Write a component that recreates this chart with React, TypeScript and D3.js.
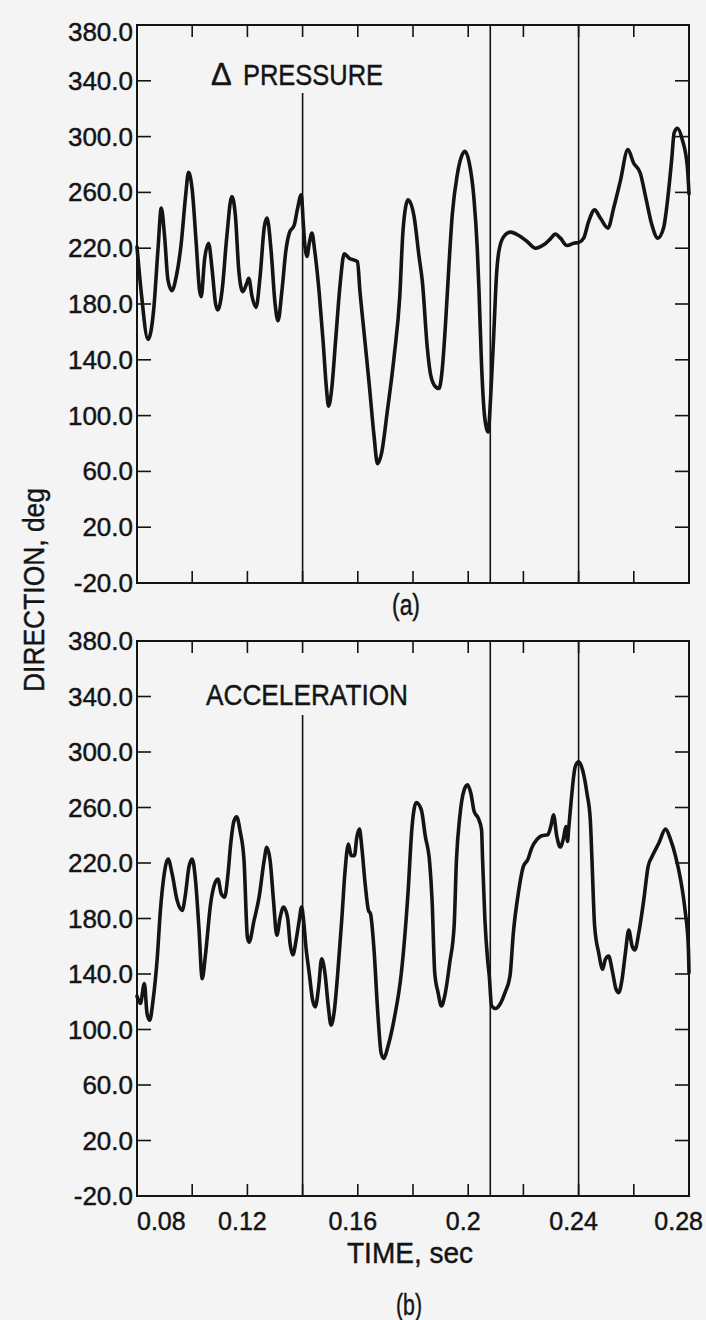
import React from "react";
import * as d3 from "d3";

// ---- data (time in sec, direction in deg) ----
const pressureSeries: [number, number][] = [
  [0.08, 221], [0.08157, 187.7], [0.08398, 154.6], [0.08603, 175.7], [0.08759, 218.8],
  [0.0888, 248.7], [0.09, 228.4], [0.09121, 197.3], [0.09265, 189.6], [0.09422, 199.6],
  [0.09603, 223.6], [0.09759, 257.1], [0.09868, 274.4], [0.1, 261.9], [0.10145, 223.6],
  [0.10265, 190.1], [0.10326, 185.3], [0.10446, 211.6], [0.10591, 223.6], [0.10723, 204.4],
  [0.10844, 180.5], [0.10928, 175.7], [0.11085, 190.1], [0.11254, 228.4], [0.11434, 257.1],
  [0.11567, 242.8], [0.11687, 204.4], [0.11832, 188.9], [0.11977, 194.9], [0.12049, 198.4],
  [0.12169, 185.3], [0.12314, 177.6], [0.12459, 199.6], [0.12615, 235.6], [0.12712, 241.6],
  [0.12856, 218.8], [0.13001, 180.5], [0.13109, 168.0], [0.13254, 190.1], [0.13398, 218.8],
  [0.13519, 230.8], [0.137, 236.8], [0.1382, 248.7], [0.13953, 258.3], [0.14025, 238.0],
  [0.14085, 221.2], [0.14158, 214.0], [0.14242, 223.6], [0.14338, 230.8], [0.14435, 218.8],
  [0.14603, 187.7], [0.14748, 151.7], [0.14869, 118.2], [0.14941, 106.7], [0.15049, 118.2],
  [0.15206, 156.5], [0.15363, 194.9], [0.15507, 215.9], [0.15688, 212.8], [0.1599, 210.4],
  [0.16074, 190.1], [0.1623, 158.9], [0.16411, 123.0], [0.16592, 84.7], [0.16712, 65.5],
  [0.16857, 72.7], [0.17074, 103.8], [0.17315, 142.2], [0.1752, 185.3], [0.1764, 233.2],
  [0.17821, 254.7], [0.18038, 242.8], [0.18219, 214.0], [0.18339, 196.1], [0.1852, 148.2],
  [0.18641, 129.1], [0.18821, 120.6], [0.18942, 119.4], [0.19062, 133.8], [0.19183, 167.3],
  [0.19303, 208.0], [0.19423, 244.0], [0.19604, 272.7], [0.19785, 287.1], [0.19882, 289.5],
  [0.20027, 282.3], [0.20207, 255.9], [0.20328, 220.0], [0.20388, 191.3], [0.20484, 136.2],
  [0.20569, 105.0], [0.20665, 90.7], [0.20725, 88.3], [0.2081, 112.2], [0.2093, 160.1],
  [0.21026, 200.8], [0.2111, 217.6], [0.21291, 228.4], [0.21532, 231.5], [0.21834, 229.1],
  [0.22135, 224.8], [0.22436, 220.0], [0.22737, 222.4], [0.22978, 226.7], [0.23159, 230.1],
  [0.2334, 227.2], [0.23581, 221.9], [0.23822, 223.6], [0.24003, 224.1], [0.24184, 227.2],
  [0.24365, 239.2], [0.24582, 247.5], [0.24787, 241.6], [0.25064, 234.4], [0.25269, 248.7],
  [0.2551, 267.9], [0.25787, 290.7], [0.25992, 281.1], [0.26233, 273.9], [0.26438, 255.9],
  [0.26655, 236.8], [0.26872, 227.2], [0.27077, 234.4], [0.27258, 260.7], [0.27378, 284.7],
  [0.2746, 302.6], [0.2758, 306.0], [0.2776, 297.6], [0.2794, 278.4], [0.28, 259.0],
];

const accelerationSeries: [number, number][] = [
  [0.08, 124], [0.08121, 118.7], [0.08267, 133.1], [0.08364, 111.5], [0.08461, 106.7],
  [0.08582, 121.1], [0.08727, 149.8], [0.08848, 185.8], [0.0897, 209.7], [0.09127, 222.9],
  [0.09273, 212.1], [0.09454, 193.1], [0.09636, 185.8], [0.09757, 197.7], [0.09879, 216.9],
  [0.1, 222.9], [0.10121, 207.3], [0.10242, 173.8], [0.10363, 136.7], [0.10485, 154.6],
  [0.10666, 190.5], [0.10812, 204.9], [0.10933, 208.5], [0.11054, 197.7], [0.11175, 195.4],
  [0.11297, 212.1], [0.11394, 233.7], [0.11515, 250.4], [0.11612, 253.3], [0.11733, 243.2],
  [0.11878, 221.7], [0.12, 166.6], [0.1206, 163.0], [0.12242, 178.6], [0.12424, 195.4],
  [0.12606, 221.7], [0.12703, 231.3], [0.12824, 221.7], [0.12945, 193.1], [0.13066, 167.9],
  [0.13187, 180.9], [0.13309, 188.2], [0.13454, 180.9], [0.13551, 161.3], [0.13648, 153.8],
  [0.13769, 164.9], [0.13878, 178.6], [0.13963, 188.2], [0.14036, 178.6], [0.14121, 159.4],
  [0.14242, 140.3], [0.14363, 121.1], [0.1446, 116.3], [0.14581, 130.7], [0.1469, 151.0],
  [0.14811, 140.3], [0.14933, 116.3], [0.1503, 103.1], [0.15151, 113.9], [0.15272, 140.3],
  [0.15417, 178.6], [0.15539, 214.5], [0.1566, 233.7], [0.15757, 225.3], [0.15878, 225.3],
  [0.15963, 238.4], [0.1606, 244.4], [0.16145, 231.3], [0.16266, 205.0], [0.16387, 185.8],
  [0.1646, 183.4], [0.16581, 159.4], [0.16726, 111.5], [0.16848, 82.8], [0.16945, 79.2],
  [0.1709, 87.6], [0.17332, 109.1], [0.17575, 140.3], [0.17817, 197.7], [0.17963, 245.6],
  [0.1812, 263.6], [0.18302, 258.3], [0.18447, 239.2], [0.18605, 220.0], [0.1869, 193.7],
  [0.18787, 141.0], [0.18908, 126.6], [0.19029, 117.0], [0.1915, 124.2], [0.19332, 148.2],
  [0.1949, 174.5], [0.19575, 222.4], [0.19696, 253.5], [0.19854, 272.7], [0.19975, 276.3],
  [0.20096, 270.3], [0.20217, 257.1], [0.20363, 252.3], [0.20484, 244.0], [0.20521, 222.4],
  [0.20605, 179.3], [0.20702, 150.5], [0.20763, 138.6], [0.20848, 117.0], [0.20993, 115.1],
  [0.21151, 118.2], [0.21333, 126.6], [0.21514, 138.6], [0.21636, 169.7], [0.21817, 198.4],
  [0.21999, 217.6], [0.22157, 222.4], [0.22302, 230.8], [0.22484, 236.8], [0.22666, 239.7],
  [0.22884, 240.4], [0.23006, 247.5], [0.2309, 254.7], [0.23211, 239.2], [0.23333, 231.5],
  [0.23454, 238.0], [0.23539, 246.3], [0.23599, 235.6], [0.23636, 243.6], [0.23733, 265.2],
  [0.23878, 289.5], [0.24, 293.0], [0.24145, 287.1], [0.24303, 270.3], [0.24424, 251.1],
  [0.24484, 222.4], [0.24581, 174.5], [0.24727, 155.3], [0.24872, 143.4], [0.24969, 150.5],
  [0.2509, 152.9], [0.25211, 143.4], [0.25357, 129.0], [0.25454, 126.6], [0.25575, 136.2],
  [0.25696, 155.3], [0.25818, 171.6], [0.25939, 160.1], [0.26036, 157.3], [0.26181, 169.7],
  [0.26363, 193.7], [0.2652, 217.6], [0.26666, 224.8], [0.26908, 234.4], [0.27151, 244.4],
  [0.27333, 236.8], [0.27514, 224.8], [0.27696, 208.0], [0.27854, 186.5], [0.27975, 160.1],
  [0.28, 141.0],
];

const yTicks = [-20, 20, 60, 100, 140, 180, 220, 260, 300, 340, 380];
const xMinorTicks = [0.1, 0.12, 0.14, 0.16, 0.18, 0.2, 0.22, 0.24, 0.26];
const xLabelValues = [0.08, 0.12, 0.16, 0.2, 0.24, 0.28];
const xLabelTexts = ["0.08", "0.12", "0.16", "0.2", "0.24", "0.28"];
const eventTimes = [0.14, 0.208, 0.24];

const X_DOMAIN: [number, number] = [0.08, 0.28];
const Y_DOMAIN: [number, number] = [-20, 380];

const LEFT = 137;
const RIGHT = 689;
const FONT = "'Liberation Sans', Arial, sans-serif";
const INK = "#141414";
const TEXT_STROKE = 0.45;

type PanelProps = {
  top: number;
  bottom: number;
  data: [number, number][];
  firstLineTop: number;
  topLabelShift: number;
  showXLabels: boolean;
  children?: React.ReactNode;
};

function Panel({ top, bottom, data, firstLineTop, topLabelShift, showXLabels, children }: PanelProps) {
  const x = d3.scaleLinear().domain(X_DOMAIN).range([LEFT, RIGHT]);
  const y = d3.scaleLinear().domain(Y_DOMAIN).range([bottom, top]);
  const line = d3
    .line<[number, number]>()
    .x((d) => x(d[0]))
    .y((d) => y(d[1]))
    .curve(d3.curveMonotoneX);

  return (
    <g>
      {eventTimes.map((t, i) => (
        <line
          key={"ev" + i}
          x1={x(t)}
          x2={x(t)}
          y1={i === 0 ? firstLineTop : top}
          y2={bottom}
          stroke={INK}
          strokeWidth={1.6}
        />
      ))}
      <rect x={LEFT} y={top} width={RIGHT - LEFT} height={bottom - top} fill="none" stroke={INK} strokeWidth={2} />
      {yTicks.map((v) => (
        <g key={"yt" + v}>
          <line x1={LEFT} x2={LEFT + 14} y1={y(v)} y2={y(v)} stroke={INK} strokeWidth={1.6} />
          <line x1={RIGHT - 14} x2={RIGHT} y1={y(v)} y2={y(v)} stroke={INK} strokeWidth={1.6} />
          <text
            x={LEFT - 4}
            y={y(v) + 9 + (v === Y_DOMAIN[1] ? topLabelShift : 0)}
            textAnchor="end"
            fontFamily={FONT}
            fontSize={26}
            fill={INK}
            stroke={INK}
            strokeWidth={TEXT_STROKE}
          >
            {v.toFixed(1)}
          </text>
        </g>
      ))}
      {xMinorTicks.map((t) => (
        <g key={"xt" + t}>
          <line x1={x(t)} x2={x(t)} y1={top} y2={top + 12} stroke={INK} strokeWidth={1.6} />
          <line x1={x(t)} x2={x(t)} y1={bottom} y2={bottom - 12} stroke={INK} strokeWidth={1.6} />
        </g>
      ))}
      {showXLabels &&
        xLabelValues.map((t, i) => {
          const last = i === xLabelValues.length - 1;
          const first = i === 0;
          return (
            <text
              key={"xl" + t}
              x={first ? x(t) : last ? x(t) + 14 : x(t) - 5}
              y={bottom + 34}
              textAnchor={first ? "start" : last ? "end" : "middle"}
              fontFamily={FONT}
              fontSize={25}
              fill={INK}
              stroke={INK}
              strokeWidth={TEXT_STROKE}
            >
              {xLabelTexts[i]}
            </text>
          );
        })}
      <path d={line(data) || ""} fill="none" stroke={INK} strokeWidth={3.6} strokeLinejoin="round" strokeLinecap="round" />
      {children}
    </g>
  );
}

export default function App() {
  return (
    <svg
      width={706}
      height={1320}
      viewBox="0 0 706 1320"
      style={{ position: "absolute", left: 0, top: 0, display: "block" }}
    >
      <rect x={0} y={0} width={706} height={1320} fill="#f4f4f4" />

      <Panel top={25} bottom={583} data={pressureSeries} firstLineTop={93} topLabelShift={7} showXLabels={false}>
        <text x={211} y={85} fontFamily={FONT} fontSize={31} fill={INK} stroke={INK} strokeWidth={TEXT_STROKE}>
          Δ
        </text>
        <text
          x={243}
          y={85}
          fontFamily={FONT}
          fontSize={30}
          textLength={140}
          lengthAdjust="spacingAndGlyphs"
          fill={INK}
          stroke={INK}
          strokeWidth={TEXT_STROKE}
        >
          PRESSURE
        </text>
      </Panel>
      <text
        x={392}
        y={615}
        fontFamily={FONT}
        fontSize={30}
        textLength={28}
        lengthAdjust="spacingAndGlyphs"
        fill={INK}
        stroke={INK}
        strokeWidth={TEXT_STROKE}
      >
        (a)
      </text>

      <Panel top={641} bottom={1196} data={accelerationSeries} firstLineTop={715} topLabelShift={0} showXLabels={true}>
        <text
          x={206}
          y={705}
          fontFamily={FONT}
          fontSize={30}
          textLength={202}
          lengthAdjust="spacingAndGlyphs"
          fill={INK}
          stroke={INK}
          strokeWidth={TEXT_STROKE}
        >
          ACCELERATION
        </text>
      </Panel>

      <text
        x={347}
        y={1263}
        fontFamily={FONT}
        fontSize={30}
        textLength={126}
        lengthAdjust="spacingAndGlyphs"
        fill={INK}
        stroke={INK}
        strokeWidth={TEXT_STROKE}
      >
        TIME, sec
      </text>
      <text
        x={396}
        y={1315}
        fontFamily={FONT}
        fontSize={30}
        textLength={26}
        lengthAdjust="spacingAndGlyphs"
        fill={INK}
        stroke={INK}
        strokeWidth={TEXT_STROKE}
      >
        (b)
      </text>

      <text
        transform="translate(44, 692) rotate(-90)"
        fontFamily={FONT}
        fontSize={30}
        textLength={204}
        lengthAdjust="spacingAndGlyphs"
        fill={INK}
        stroke={INK}
        strokeWidth={TEXT_STROKE}
      >
        DIRECTION, deg
      </text>
    </svg>
  );
}
